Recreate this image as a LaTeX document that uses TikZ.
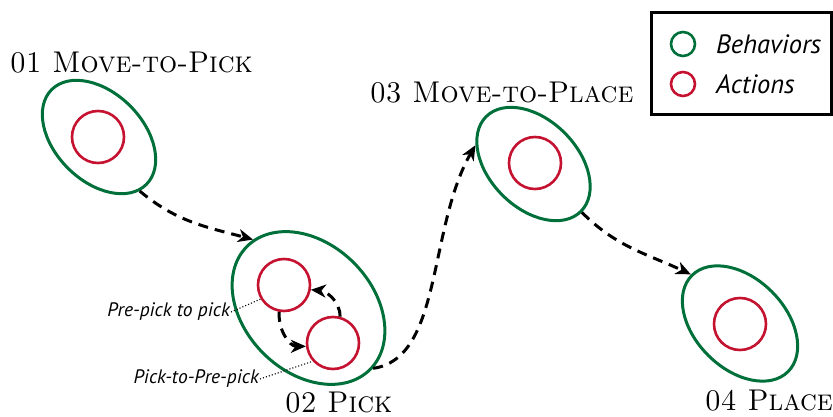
\documentclass[tikz,border=0pt]{standalone}
\usepackage{fontspec}
\newfontfamily\labelfont{PT Sans}
\usetikzlibrary{shapes.geometric,arrows.meta}
\definecolor{behgreen}{RGB}{0,112,58}
\definecolor{actred}{RGB}{196,18,48}
\newcommand\narrowtitle[1]{\scalebox{0.95}[1]{#1}}
\tikzset{
  behavior/.style={ellipse,draw=behgreen,line width=3pt,inner sep=0pt,rotate=-45},
  action/.style={circle,draw=actred,line width=2.6pt,inner sep=0pt,minimum size=52pt},
  flow/.style={line width=3pt,dash pattern=on 10pt off 7pt,
    -{Stealth[length=15pt,width=13pt,inset=4.5pt]}},
  title/.style={anchor=base west,inner sep=0pt,font=\fontsize{30}{30}\selectfont\scshape},
  note/.style={anchor=east,inner sep=1pt,font=\labelfont\itshape\fontsize{19.5}{21}\selectfont},
  leader/.style={dotted,line width=1.1pt},
  legtext/.style={anchor=west,inner sep=0pt,font=\labelfont\itshape\fontsize{26.5}{28}\selectfont},
}
\begin{document}
\begin{tikzpicture}[x=1pt,y=-1pt]
\useasboundingbox (0,0) rectangle (833,417);

% behaviours
\node[behavior,minimum width=134pt,minimum height=88pt] (b1) at (99,137) {};
\node[behavior,minimum width=174pt,minimum height=128pt] (b2) at (308.5,308) {};
\node[behavior,minimum width=134pt,minimum height=88pt] (b3) at (533.5,164) {};
\node[behavior,minimum width=136pt,minimum height=90pt] (b4) at (740,323.5) {};

% actions
\node[action] (a1) at (98,137) {};
\node[action] (a2) at (284,285) {};
\node[action] (a3) at (333,343) {};
\node[action] (a4) at (535,163) {};
\node[action] (a5) at (740,324) {};

% titles
\node[title] (t1) at (10,73) {\narrowtitle{01 Move-to-Pick}};
\node[title] (t2) at (285,412) {\narrowtitle{02 Pick}};
\node[title] (t3) at (370,103) {\narrowtitle{03 Move-to-Place}};
\node[title] (t4) at (705,410) {\narrowtitle{04 Place}};

% transitions between behaviours
\draw[flow] (b1.-8) to[out=-40,in=165] (b2.174);
\draw[flow] (b2.2) .. controls +(-8:70) and +(120:95) .. (b3.-153);
\draw[flow] (b3.0) to[out=-45,in=155] (b4.180);

% transitions inside Pick
\draw[flow] (a2.-100) to[out=-95,in=180] (a3.187);
\draw[flow] (a3.75) to[out=90,in=-5] (a2.-10);

% labels for the inner transitions
\node[note] (n1) at (231,312) {Pre-pick to pick};
\node[note] (n2) at (260,379) {Pick-to-Pre-pick};
\draw[leader] (n1.east) -- (a2.-149);
\draw[leader] (n2.east) -- (a3.-138);

% legend
\node[draw,line width=3pt,minimum width=180pt,minimum height=102pt,inner sep=0pt] (leg) at (741.5,63.5) {};
\node[circle,draw=behgreen,line width=2.6pt,minimum size=24pt,inner sep=0pt] (lg) at (683,44) {};
\node[circle,draw=actred,line width=2.6pt,minimum size=24pt,inner sep=0pt] (lr) at (683,84) {};
\node[legtext] (lgt) at (716,44) {Behaviors};
\node[legtext] (lrt) at (716,84) {Actions};
\end{tikzpicture}
\end{document}
